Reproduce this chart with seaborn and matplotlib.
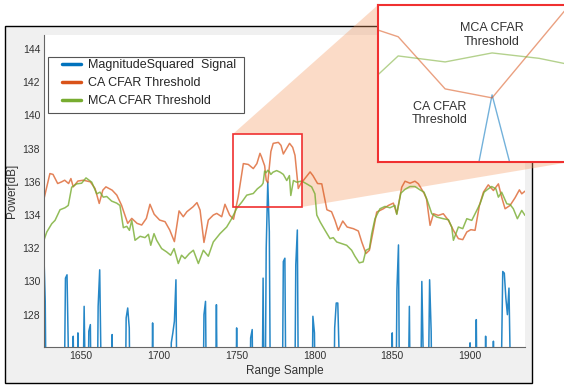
import matplotlib
matplotlib.use('Agg')
import matplotlib.pyplot as plt
import matplotlib.patches as mpatches
import seaborn as sns

# ---- data ----
sig_samples = [1626, 1627, 1628, 1638, 1639, 1640, 1641, 1642, 1643, 1644, 1645, 1646,
               1647, 1648, 1649, 1651, 1652, 1653, 1654, 1655, 1656, 1657, 1660, 1661,
               1662, 1663, 1664, 1669, 1670, 1671, 1678, 1679, 1680, 1681, 1682, 1695,
               1696, 1697, 1707, 1708, 1709, 1710, 1711, 1712, 1728, 1729, 1730, 1731,
               1736, 1737, 1738, 1749, 1750, 1751, 1758, 1759, 1760, 1761, 1766, 1767,
               1768, 1769, 1770, 1771, 1772, 1779, 1780, 1781, 1782, 1787, 1788, 1789,
               1790, 1798, 1799, 1800, 1801, 1812, 1813, 1814, 1815, 1816, 1817, 1849,
               1850, 1851, 1852, 1853, 1854, 1855, 1860, 1861, 1862, 1868, 1869, 1870,
               1871, 1873, 1874, 1875, 1876, 1899, 1900, 1901, 1903, 1904, 1905, 1909,
               1910, 1911, 1914, 1915, 1916, 1919, 1920, 1921, 1922, 1923, 1924, 1925,
               1926, 1927, 1935]
sig_db = [132.1, 128.8, 118, 118, 121, 130.2, 130.4, 125, 118, 118, 126.7, 118,
          118, 126.9, 118, 121, 128.5, 122, 118, 127.0, 127.4, 118, 118, 128.5,
          130.7, 124, 118, 118, 126.8, 118, 118, 127.8, 128.4, 127.2, 118, 118,
          127.5, 118, 118, 126.3, 126.9, 127.6, 130.1, 118, 118, 128.0, 128.8, 118,
          118, 128.6, 118, 118, 127.2, 118, 118, 126.6, 127.1, 118, 118, 130.2,
          118, 132.0, 136.0, 133.0, 118, 118, 131.2, 131.4, 118, 118, 131.0, 133.1,
          118, 118, 127.9, 126.9, 118, 118, 127.2, 128.7, 128.7, 125.0, 118, 118,
          126.9, 118, 118, 129.5, 132.2, 118, 121, 128.5, 118, 120, 130.0, 125.0,
          118, 122, 130.1, 127.0, 118, 118, 126.3, 118, 118, 127.7, 118, 118,
          126.7, 118, 118, 126.4, 118, 118, 124, 130.6, 130.5, 129.0, 128.0, 129.6,
          124, 118, 118]

ca_samples = [1626, 1630, 1632, 1635, 1637.5, 1639.5, 1642, 1643.5, 1645, 1648, 1651.5,
              1656, 1659, 1661.7, 1664, 1666, 1670, 1673, 1676, 1680, 1682.6, 1686,
              1689, 1692, 1694.3, 1697, 1700.5, 1704, 1707, 1710, 1713, 1715.7, 1718,
              1722, 1724.5, 1726.5, 1729, 1731.8, 1735, 1737.2, 1740.4, 1742.5, 1745.5,
              1748, 1751, 1754.3, 1757.5, 1760.7, 1763, 1765, 1766, 1767, 1768, 1769,
              1770, 1771, 1772, 1773.5, 1776.8, 1778.5, 1780, 1782, 1784, 1786, 1787.5,
              1789.6, 1791.8, 1793, 1797.2, 1799, 1802, 1804.7, 1808, 1811, 1813.2,
              1815.3, 1818.2, 1821, 1825, 1828.2, 1830.4, 1833.1, 1835.3, 1837.4, 1840,
              1844.3, 1847.5, 1850.7, 1852.9, 1856.1, 1858.2, 1861.4, 1864.6, 1866.8,
              1870.4, 1872, 1874.3, 1876.5, 1879.6, 1882.8, 1886.1, 1889.3, 1892.5,
              1895.3, 1897.9, 1900.5, 1903.2, 1906, 1908.6, 1911.7, 1915, 1918.2,
              1920.3, 1922.5, 1925.7, 1928.9, 1931.7, 1933.2, 1935.3]
ca_db = [134.9, 136.5, 136.45, 135.9, 136.0, 136.1, 135.9, 136.2, 135.7, 136.05, 136.1,
         136.0, 135.6, 134.7, 135.5, 135.7, 135.5, 135.2, 134.6, 133.5, 133.8, 133.5,
         133.4, 133.8, 134.65, 134.05, 133.7, 133.6, 133.1, 132.4, 134.25, 133.9, 134.2,
         134.5, 134.75, 134.3, 132.35, 133.7, 134.0, 134.1, 133.9, 134.65, 134.0,
         133.75, 135.1, 137.1, 137.05, 136.8, 137.1, 137.72, 137.5, 137.23, 136.97, 136.1,
         135.95, 136.89, 137.83, 138.32, 138.38, 138.2, 137.68, 138.0, 138.32, 138.08, 137.6,
         135.6, 136.0, 136.1, 136.6, 136.38, 135.9, 135.88, 134.32, 134.2, 133.68,
         133.08, 133.64, 133.28, 133.18, 133.04, 132.38, 131.68, 131.88, 132.88, 134.18,
         134.38, 134.58, 134.72, 134.08, 135.68, 136.04, 135.92, 136.04, 135.88,
         135.32, 134.98, 133.38, 134.08, 133.98, 134.08, 133.68, 133.08, 132.58,
         132.52, 132.98, 133.12, 133.08, 134.58, 135.38, 135.82, 135.48, 135.88,
         135.08, 134.38, 134.58, 135.04, 135.52, 135.28, 135.44]

mca_samples = [1626, 1628, 1631.2, 1633.3, 1636.5, 1639.7, 1641.8, 1644, 1647.2, 1650.4,
               1653.2, 1656.9, 1660.1, 1662.2, 1664.3, 1666.5, 1669.7, 1672.9, 1675,
               1677.2, 1679.4, 1681.1, 1682.6, 1684.7, 1688, 1691.1, 1693.3, 1694.8,
               1696.9, 1698.6, 1701.8, 1705, 1707.6, 1709.8, 1712.5, 1714.6, 1716.8,
               1719.6, 1722.2, 1725.4, 1728.6, 1731.8, 1735, 1739.3, 1743.6, 1746.8,
               1750, 1753.3, 1756.5, 1760.7, 1763.3, 1766, 1767, 1768, 1769, 1770, 1771,
               1772, 1773.3, 1775.7, 1778, 1780, 1782.2, 1783.9, 1784.8, 1786.5, 1788.6,
               1791.8, 1795, 1798.2, 1800.3, 1801.5, 1803.7, 1806.8, 1810, 1812.1,
               1814.3, 1817.5, 1820.7, 1823.9, 1826, 1828.8, 1831.3, 1833.1, 1835.3,
               1836.8, 1838.9, 1842.1, 1845.3, 1848.5, 1851.7, 1852.9, 1855.5, 1858.2,
               1861.4, 1864.6, 1867.8, 1870.4, 1872.5, 1875.4, 1878.6, 1882.8, 1886.1,
               1888.2, 1889.3, 1892.5, 1895.3, 1897.9, 1901.1, 1904.3, 1906.4, 1909,
               1911.7, 1913.9, 1916.6, 1918.2, 1920.3, 1923.6, 1925.7, 1927.8, 1930.4,
               1933.2, 1935.3]
mca_db = [132.44, 132.98, 133.48, 133.68, 134.32, 134.44, 134.58, 135.68, 135.88, 135.92,
          136.24, 135.98, 135.28, 135.38, 135.08, 135.12, 134.84, 134.72, 134.58,
          133.24, 133.32, 133.08, 133.68, 132.48, 132.72, 132.64, 132.84, 132.18,
          132.88, 132.48, 131.98, 131.78, 131.58, 131.98, 131.08, 131.58, 131.38,
          131.68, 131.88, 131.08, 131.88, 131.52, 132.38, 132.88, 133.28, 133.78,
          134.4, 134.78, 135.2, 135.3, 135.58, 135.78, 135.92, 136.65, 136.55, 136.7, 136.61,
          136.45, 136.58, 136.68, 136.58, 136.45, 136.08, 136.38, 135.18, 136.08, 135.98,
          136.05, 135.88, 135.7, 135.28, 134.0, 133.58, 133.08, 132.58, 132.64,
          132.38, 132.28, 132.18, 131.88, 131.52, 131.12, 131.18, 131.88, 131.98,
          132.88, 133.78, 134.38, 134.52, 134.44, 134.58, 134.04, 135.32, 135.55,
          135.72, 135.72, 135.52, 135.38, 134.88, 134.08, 133.88, 133.78, 133.72,
          133.28, 132.48, 133.28, 133.18, 133.78, 133.68, 134.28, 134.68, 135.38,
          135.58, 135.72, 135.58, 135.08, 135.38, 134.68, 134.64, 134.38, 133.78,
          134.28, 133.98]

x_ticks = [1650, 1700, 1750, 1800, 1850, 1900]
y_ticks = [128, 130, 132, 134, 136, 138, 140, 142, 144]
zoom_box = (1747.7, 134.49, 1792.0, 138.89)   # x0, y0, x1, y1 of the red box
inset_xlim = (1767.57, 1771.66)
inset_ylim = (134.88, 137.5)

blue, orange, green = '#0072BD', '#D95319', '#77AC30'

sns.set_style('white')
plt.rcParams['font.family'] = ['Liberation Sans', 'DejaVu Sans']

W, H = 564, 385
fig = plt.figure(figsize=(W / 100, H / 100), dpi=100)
fig.patch.set_facecolor('white')


def fig_box(x0, y0, x1, y1):
    # pixel box (top-left origin) -> figure fraction [l, b, w, h]
    return [x0 / W, 1 - y1 / H, (x1 - x0) / W, (y1 - y0) / H]


# grey figure window with black frame
frame = mpatches.Rectangle((5 / W, 1 - 383 / H), 527 / W, 357 / H,
                           transform=fig.transFigure, facecolor='#f0f0f0',
                           edgecolor='black', linewidth=1.0, zorder=-1)
fig.add_artist(frame)

ax = fig.add_axes(fig_box(44.3, 35, 525, 347))
ax.set_facecolor('white')
sns.lineplot(x=sig_samples, y=sig_db, ax=ax, color=blue, linewidth=1.1, alpha=0.85,
             label='MagnitudeSquared  Signal', errorbar=None)
sns.lineplot(x=ca_samples, y=ca_db, ax=ax, color=orange, linewidth=1.1, alpha=0.72,
             label='CA CFAR Threshold', errorbar=None)
sns.lineplot(x=mca_samples, y=mca_db, ax=ax, color=green, linewidth=1.1, alpha=0.8,
             label='MCA CFAR Threshold', errorbar=None)

ax.set_xlim(1626.4, 1935.3)
ax.set_ylim(126.05, 144.85)
ax.set_xticks(x_ticks)
ax.set_yticks(y_ticks)
ax.tick_params(direction='in', length=3, width=0.7, color='#555555',
               labelsize=7.5, labelcolor='#333333', pad=3)
for side in ['top', 'right']:
    ax.spines[side].set_visible(False)
for side in ['left', 'bottom']:
    ax.spines[side].set_color('#666666')
    ax.spines[side].set_linewidth(0.8)
ax.set_xlabel('Range Sample', fontsize=8.5, color='#333333', labelpad=3)
ax.set_ylabel('Power[dB]', fontsize=8.5, color='#333333', labelpad=3)

# legend: frame drawn by hand so the padding matches
aw, ah = 525 - 44.3, 347 - 35
ax.add_patch(mpatches.Rectangle(((48.3 - 44.3) / aw, 1 - (113.3 - 35) / ah),
                                (244 - 48.3) / aw, (113.3 - 56.7) / ah,
                                transform=ax.transAxes, facecolor='white',
                                edgecolor='#555555', linewidth=0.8, zorder=4))
leg = ax.legend(loc='upper left', bbox_to_anchor=((62 - 44.3) / aw, 1 - (59 - 35) / ah),
                borderaxespad=0, borderpad=0, frameon=False, fontsize=9,
                handlelength=1.55, handletextpad=0.5, labelspacing=0.5)
leg.set_zorder(5)
for ln in leg.get_lines():
    ln.set_linewidth(2.5)
    ln.set_alpha(1)
for t in leg.get_texts():
    t.set_color('#262626')

# red zoom box on the main axes
zx0, zy0, zx1, zy1 = zoom_box
ax.add_patch(mpatches.Rectangle((zx0, zy0), zx1 - zx0, zy1 - zy0, facecolor='none',
                                edgecolor='#F03030', linewidth=1.2, zorder=6))

# inset (runs past the right edge of the picture, as in the reference)
axin = fig.add_axes(fig_box(378, 5, 570, 162))
axin.set_facecolor('white')
sns.lineplot(x=sig_samples, y=sig_db, ax=axin, color=blue, linewidth=1.0, alpha=0.55,
             errorbar=None)
sns.lineplot(x=ca_samples, y=ca_db, ax=axin, color=orange, linewidth=1.0, alpha=0.55,
             errorbar=None)
sns.lineplot(x=mca_samples, y=mca_db, ax=axin, color=green, linewidth=1.0, alpha=0.55,
             errorbar=None)
axin.set_xlim(*inset_xlim)
axin.set_ylim(*inset_ylim)
axin.set_xticks([])
axin.set_yticks([])
axin.set_xlabel('')
axin.set_ylabel('')
for sp in axin.spines.values():
    sp.set_color('#F03030')
    sp.set_linewidth(1.5)
axin.text(0.592, 0.81, 'MCA CFAR\nThreshold', transform=axin.transAxes, ha='center',
          va='center', multialignment='center', fontsize=9, color='#333333', linespacing=1.15)
axin.text(0.323, 0.31, 'CA CFAR\nThreshold', transform=axin.transAxes, ha='center',
          va='center', multialignment='center', fontsize=9, color='#333333', linespacing=1.15)

# peach wedge joining the box to the inset
to_fig = fig.transFigure.inverted()
corners = [ax.transData.transform((zx0, zy1)),
           axin.transAxes.transform((0, 1)),
           axin.transAxes.transform((1, 1)),
           axin.transAxes.transform((1, 0)),
           ax.transData.transform((zx1, zy0)),
           ax.transData.transform((zx1, zy1))]
wedge = mpatches.Polygon(to_fig.transform(corners), closed=True, transform=fig.transFigure,
                         facecolor=(0.96, 0.6, 0.38), edgecolor='none', alpha=0.35,
                         clip_on=False, zorder=1)
ax.add_patch(wedge)

fig.savefig('out.png', dpi=100)
